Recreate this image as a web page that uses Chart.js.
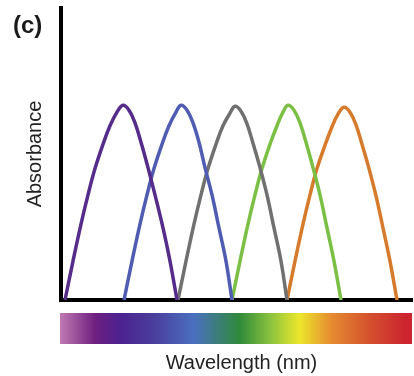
<!DOCTYPE html>
<html>
<head>
<meta charset="utf-8">
<script src="https://cdn.jsdelivr.net/npm/chart.js@4"></script>
<style>
  html, body { margin: 0; padding: 0; background: #fff; }
  #wrap { width: 414px; height: 376px; }
</style>
</head>
<body>
<div id="wrap"><canvas id="chart" width="414" height="376"></canvas></div>
<script>
// wavelength (nm, approx) vs relative absorbance
const violet = [[384,0],[392,0.2],[400,0.39],[407,0.54],[414,0.675],[422,0.8],[429,0.895],[436,0.965],[442,1.0],[448,0.975],[454,0.91],[460,0.81],[467,0.68],[474,0.54],[482,0.37],[489,0.2],[496,0]]
const blue = [[443,0],[451,0.2],[459,0.39],[466,0.54],[473,0.675],[481,0.8],[488,0.895],[495,0.965],[500,1.0],[506,0.975],[512,0.91],[518,0.81],[524,0.68],[531,0.54],[538,0.37],[545,0.2],[551,0]]
const grey = [[497,0],[505,0.2],[513,0.39],[520,0.54],[527,0.675],[535,0.8],[542,0.895],[549,0.96],[554,0.995],[560,0.97],[566,0.905],[572,0.805],[579,0.68],[586,0.54],[593,0.37],[600,0.2],[606,0]]
const green = [[551,0],[559,0.2],[567,0.39],[574,0.54],[581,0.675],[589,0.8],[596,0.895],[602,0.965],[607,1.0],[613,0.975],[619,0.91],[625,0.81],[632,0.68],[639,0.54],[646,0.37],[653,0.2],[660,0]]
const orange = [[606,0],[614,0.2],[622,0.39],[629,0.54],[636,0.675],[644,0.795],[651,0.89],[657,0.955],[663,0.99],[669,0.965],[675,0.9],[681,0.8],[688,0.675],[695,0.535],[702,0.37],[709,0.2],[716,0]]

const seriesColors = ['#562c8a', '#4f5cb2', '#707070', '#7cbf45', '#d67a2c']

// colours of the spectrum strip under the axis
const spectrumStops = [
  [0, '#c07ab2'], [0.1, '#6e1f80'], [0.17, '#4c2190'], [0.27, '#4a3f9c'],
  [0.38, '#4a6fc0'], [0.51, '#2f8a3a'], [0.6, '#8cc43e'], [0.68, '#ece72c'],
  [0.77, '#e68c30'], [0.88, '#d4502e'], [0.98, '#cc2530']
]

const toPoints = (arr) => arr.map(p => ({ x: p[0], y: p[1] }))

const extras = {
  id: 'extras',
  beforeDatasetsDraw(chart) {
    const ctx = chart.ctx
    const a = chart.chartArea
    const x0 = a.left - 1, x1 = a.right
    const g = ctx.createLinearGradient(x0, 0, x1, 0)
    spectrumStops.forEach(s => g.addColorStop(s[0], s[1]))
    ctx.save()
    ctx.fillStyle = g
    ctx.fillRect(x0, a.bottom + 13, x1 - x0, 31)
    ctx.fillStyle = '#1a1a1a'
    ctx.font = 'bold 24px "Liberation Sans", Arial, sans-serif'
    ctx.textBaseline = 'alphabetic'
    ctx.fillText('(c)', 13, 33)
    // x axis label sits a little right of centre in the original
    ctx.fillStyle = '#222'
    ctx.font = '20px "Liberation Sans", Arial, sans-serif'
    ctx.textAlign = 'center'
    ctx.textBaseline = 'middle'
    ctx.fillText('Wavelength (nm)', (a.left + a.right) / 2 + 5, a.bottom + 63)
    ctx.restore()
  }
}

new Chart(document.getElementById('chart'), {
  type: 'line',
  data: {
    datasets: [violet, blue, grey, green, orange].map((d, i) => ({
      data: toPoints(d),
      borderColor: seriesColors[i],
      borderWidth: 3.5,
      pointRadius: 0,
      tension: 0.4,
      fill: false
    }))
  },
  options: {
    responsive: false,
    animation: false,
    layout: { padding: { left: 14, top: 8, right: 2, bottom: 76 } },
    plugins: { legend: { display: false }, tooltip: { enabled: false } },
    scales: {
      x: {
        type: 'linear',
        min: 380,
        max: 731,
        grid: { display: false, drawTicks: false, tickLength: 0 },
        ticks: { display: false },
        border: { color: '#000', width: 4 }
      },
      y: {
        min: 0,
        max: 1.5,
        grid: { display: false, drawTicks: false, tickLength: 0 },
        ticks: { display: false },
        border: { color: '#000', width: 4 },
        title: {
          display: true,
          text: 'Absorbance',
          color: '#222',
          font: { family: '"Liberation Sans", Arial, sans-serif', size: 20 },
          padding: { top: 9, bottom: 14 }
        }
      }
    }
  },
  plugins: [extras]
})
</script>
</body>
</html>
